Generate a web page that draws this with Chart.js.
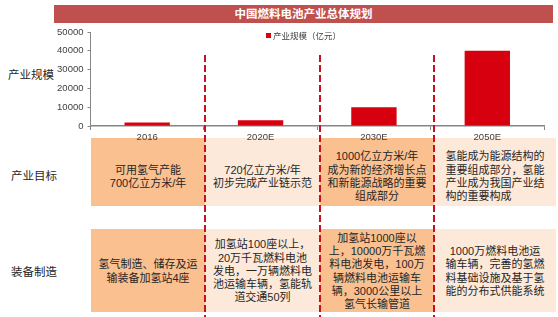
<!DOCTYPE html>
<html>
<head>
<meta charset="utf-8">
<script src="https://cdn.jsdelivr.net/npm/chart.js@4"></script>
<style>
  body { margin: 0; background: #fff; }
  #wrap { position: relative; width: 558px; height: 317px; overflow: hidden;
    font-family: "Liberation Sans", "Noto Sans CJK SC", sans-serif; color: #262626; }
  #chart { position: absolute; left: 0; top: 0; z-index: 2; }
  .title { position: absolute; left: 54px; top: 5px; width: 499px; height: 18px; background: #C0504D;
    color: #fff; font-weight: bold; font-size: 11.5px; line-height: 18px; text-align: center; }
  .rowlabel { position: absolute; font-size: 11.5px; line-height: 14px; white-space: nowrap; }
  .legend { position: absolute; left: 266px; top: 30px; font-size: 8.5px; line-height: 12px; color: #404040;
    white-space: nowrap; z-index: 3; }
  .legend i { display: inline-block; width: 5px; height: 5px; background: #D7000F; margin-right: 2px; vertical-align: 1px; }
  .cell { position: absolute; display: flex; align-items: center; justify-content: center; box-sizing: border-box;
    font-size: 11px; line-height: 13.3px; white-space: pre; text-align: center; }
</style>
</head>
<body>
<div id="wrap">
  <div class="title">中国燃料电池产业总体规划</div>
  <div class="legend"><i></i>产业规模（亿元）</div>
  <div class="rowlabel" style="left:8px;top:68px;">产业规模</div>
  <div class="rowlabel" style="left:11px;top:169px;">产业目标</div>
  <div class="rowlabel" style="left:11px;top:265px;">装备制造</div>
  <canvas id="chart" width="558" height="317"></canvas>
</div>
<script>
const categories = ['2016', '2020E', '2030E', '2050E'];
const scaleValues = [1800, 3000, 10000, 40000];
const yTicks = [0, 10000, 20000, 30000, 40000, 50000];

const goals = [
  '可用氢气产能\n700亿立方米/年',
  '720亿立方米/年\n初步完成产业链示范',
  '1000亿立方米/年\n成为新的经济增长点\n和新能源战略的重要\n组成部分',
  '氢能成为能源结构的\n重要组成部分，氢能\n产业成为我国产业结\n构的重要构成'
];
const equipment = [
  '氢气制造、储存及运\n输装备加氢站4座',
  '加氢站100座以上，\n20万千瓦燃料电池\n发电，一万辆燃料电\n池运输车辆，氢能轨\n道交通50列',
  '加氢站1000座以\n上，10000万千瓦燃\n料电池发电，100万\n辆燃料电池运输车\n辆，3000公里以上\n氢气长输管道',
  '1000万燃料电池运\n输车辆，完善的氢燃\n料基础设施及基于氢\n能的分布式供能系统'
];

// column edges of the table / divider positions
const colEdges = [91, 205, 320, 434, 556];
const dark = '#FAC090', light = '#FDE9D9';

const wrap = document.getElementById('wrap');
function addRow(texts, top, height, shift) {
  texts.forEach((t, i) => {
    const d = document.createElement('div');
    d.className = 'cell';
    d.style.left = colEdges[i] + 'px';
    d.style.top = top + 'px';
    d.style.width = (colEdges[i + 1] - colEdges[i]) + 'px';
    d.style.height = height + 'px';
    d.style.paddingTop = shift + 'px';
    d.style.background = i % 2 === 0 ? dark : light;
    d.textContent = t;
    if (i === 3 && texts === goals) { d.style.textAlign = 'left'; }
    wrap.appendChild(d);
  });
}
addRow(goals, 138, 68, 10);
addRow(equipment, 229, 83, 2);

const dividers = {
  id: 'dividers',
  afterDraw(chart) {
    const ctx = chart.ctx;
    ctx.save();
    ctx.strokeStyle = '#C8101E';
    ctx.lineWidth = 2;
    ctx.setLineDash([7, 3]);
    for (let i = 1; i < colEdges.length - 1; i++) {
      ctx.beginPath();
      ctx.moveTo(colEdges[i], 55);
      ctx.lineTo(colEdges[i], chart.height);
      ctx.stroke();
    }
    ctx.restore();
  }
};

new Chart(document.getElementById('chart'), {
  type: 'bar',
  data: {
    labels: categories,
    datasets: [{
      label: '产业规模（亿元）',
      data: scaleValues,
      backgroundColor: '#D7000F',
      categoryPercentage: 1,
      barPercentage: 0.4
    }]
  },
  options: {
    responsive: false,
    animation: false,
    layout: { padding: { top: 32, right: 14, bottom: 0, left: 0 } },
    plugins: { legend: { display: false }, tooltip: { enabled: false } },
    scales: {
      x: {
        afterFit: (s) => { s.height = 191; },
        grid: { display: true, drawOnChartArea: false, offset: true, tickLength: 4, color: '#868686' },
        border: { color: '#868686', width: 1.5 },
        ticks: { color: '#404040', padding: 2, font: { family: 'Liberation Sans', size: 9.5 } }
      },
      y: {
        min: 0,
        max: 50000,
        afterFit: (s) => { s.width = 90.5; },
        afterBuildTicks: (s) => { s.ticks = yTicks.map(v => ({ value: v })); },
        grid: { drawOnChartArea: false, tickLength: 3, color: '#868686' },
        border: { color: '#868686' },
        ticks: {
          color: '#404040', padding: 4, font: { family: 'Liberation Sans', size: 9.5 },
          callback: (v) => String(v)
        }
      }
    }
  },
  plugins: [dividers]
});
</script>
</body>
</html>
